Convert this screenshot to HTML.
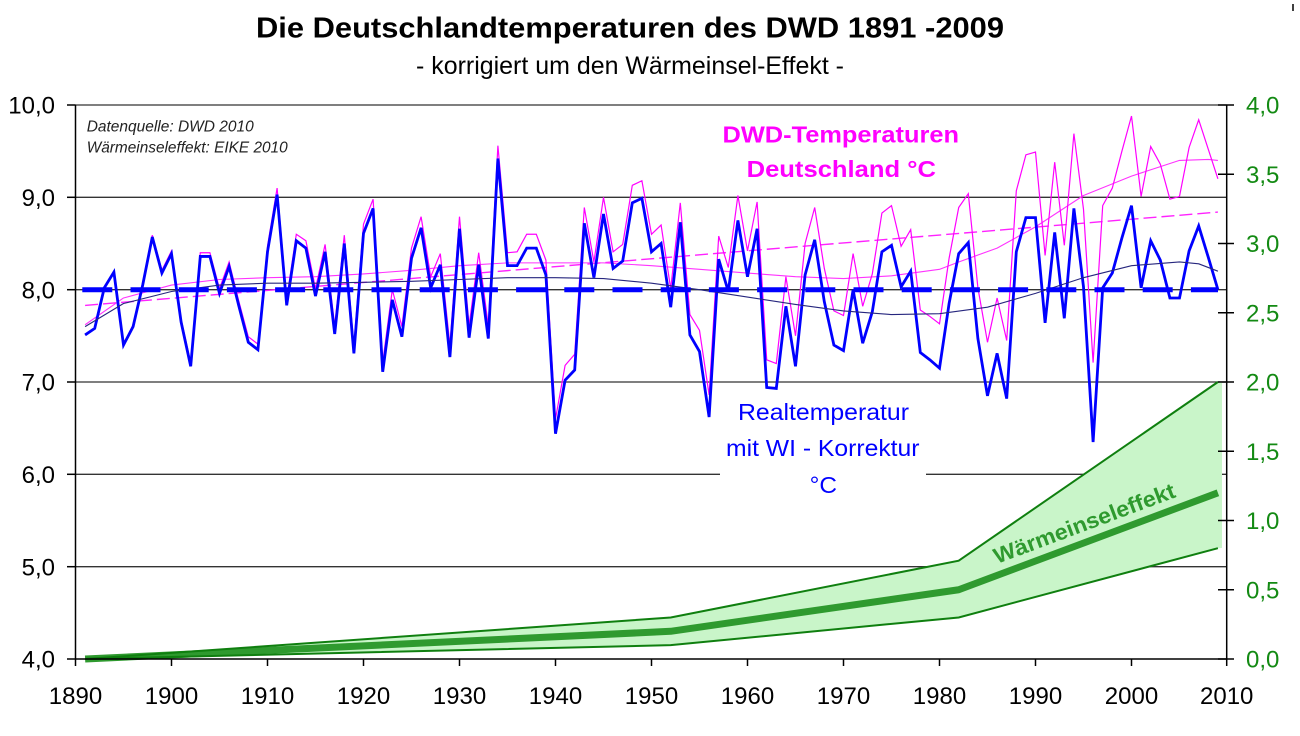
<!DOCTYPE html>
<html>
<head>
<meta charset="utf-8">
<style>
html,body{margin:0;padding:0;background:#fff;}
svg{display:block;}
text{font-family:"Liberation Sans",Arial,sans-serif;}
</style>
</head>
<body>
<svg width="1300" height="736" viewBox="0 0 1300 736" xmlns="http://www.w3.org/2000/svg">
<rect x="0" y="0" width="1300" height="736" fill="#fff"/>

<!-- Titles -->
<text x="256" y="37.3" font-size="29" font-weight="bold" fill="#000" textLength="748" lengthAdjust="spacingAndGlyphs">Die Deutschlandtemperaturen des DWD 1891 -2009</text>
<text x="416" y="74" font-size="25" fill="#000" textLength="428" lengthAdjust="spacingAndGlyphs">- korrigiert um den Wärmeinsel-Effekt -</text>
<line x1="1293" y1="4" x2="1293" y2="11" stroke="#000" stroke-width="1.5"/>

<!-- Gridlines -->
<g stroke="#333" stroke-width="1.3">
<line x1="75.5" y1="105" x2="1226.7" y2="105"/>
<line x1="75.5" y1="197.3" x2="1226.7" y2="197.3"/>
<line x1="75.5" y1="289.7" x2="1226.7" y2="289.7"/>
<line x1="75.5" y1="382" x2="1226.7" y2="382"/>
<line x1="75.5" y1="474.3" x2="1226.7" y2="474.3"/>
<line x1="75.5" y1="566.7" x2="1226.7" y2="566.7"/>
</g>

<!-- Green band (Wärmeinseleffekt) -->
<polygon points="85.1,659 670.7,617.5 958.7,560.7 1217.9,382 1222,382 1222,548 1217.9,548.2 958.7,617.45 670.7,645.15 85.1,659" fill="#c9f5c9"/>
<polyline points="85.1,659 670.7,631.3 958.7,589.75 1217.9,492.8" fill="none" stroke="#2f9a2f" stroke-width="7" stroke-linejoin="round"/>
<polyline points="85.1,659 670.7,617.5 958.7,560.7 1217.9,382" fill="none" stroke="#0f7f0f" stroke-width="2"/>
<polyline points="85.1,659 670.7,645.15 958.7,617.45 1217.9,548.2" fill="none" stroke="#0f7f0f" stroke-width="2"/>

<!-- Magenta trend dashed -->
<line x1="85.1" y1="305.4" x2="1217.9" y2="212.1" stroke="#ff22ff" stroke-width="1.4" stroke-dasharray="13 5"/>

<g transform="matrix(9.6 0 0 -92.33 75.5 1028.3)" fill="none">
<!-- Magenta smooth -->
<polyline vector-effect="non-scaling-stroke" stroke="#ff33ff" stroke-width="1.1" stroke-linejoin="round" points="1,7.62 5,7.91 10,8.05 15,8.11 20,8.13 25,8.14 30,8.17 35,8.21 40,8.26 45,8.29 50,8.29 55,8.29 60,8.26 65,8.22 70,8.18 75,8.14 80,8.12 85,8.15 90,8.22 92,8.30 96,8.45 100,8.68 105,9.02 110,9.23 115,9.40 118,9.41 119,9.40"/>
<!-- Magenta series -->
<polyline vector-effect="non-scaling-stroke" stroke="#ff00ff" stroke-width="1.2" points="1,7.51 2,7.58 3,8.03 4,8.20 5,7.41 6,7.62 7,8.07 8,8.59 9,8.21 10,8.42 11,7.68 12,7.21 13,8.40 14,8.40 15,8.01 16,8.30 17,7.88 18,7.49 19,7.41 20,8.47 21,9.10 22,7.90 23,8.60 24,8.53 25,8.01 26,8.49 27,7.61 28,8.59 29,7.40 30,8.71 31,8.98 32,7.21 33,8.00 34,7.60 35,8.45 36,8.79 37,8.14 38,8.39 39,7.40 40,8.79 41,7.61 42,8.40 43,7.61 44,9.56 45,8.40 46,8.41 47,8.60 48,8.60 49,8.32 50,6.60 51,7.18 52,7.30 53,8.89 54,8.30 55,9.00 56,8.41 57,8.49 58,9.13 59,9.18 60,8.60 61,8.70 62,8.01 63,8.94 64,7.73 65,7.56 66,6.86 67,8.58 68,8.24 69,9.02 70,8.42 71,8.95 72,7.24 73,7.20 74,8.14 75,7.50 76,8.50 77,8.89 78,8.23 79,7.77 80,7.72 81,8.39 82,7.82 83,8.17 84,8.83 85,8.91 86,8.47 87,8.65 88,7.78 89,7.71 90,7.63 91,8.34 92,8.89 93,9.04 94,8.02 95,7.43 96,7.91 97,7.45 98,9.07 99,9.46 100,9.49 101,8.37 102,9.38 103,8.48 104,9.69 105,8.87 106,7.21 107,8.91 108,9.10 109,9.50 110,9.88 111,9.01 112,9.55 113,9.36 114,8.98 115,9.01 116,9.54 117,9.84 118,9.52 119,9.20"/>
<!-- Blue series -->
<polyline vector-effect="non-scaling-stroke" stroke="#0000ff" stroke-width="2.8" points="1,7.51 2,7.58 3,8.02 4,8.19 5,7.40 6,7.60 7,8.05 8,8.57 9,8.18 10,8.39 11,7.65 12,7.17 13,8.36 14,8.36 15,7.96 16,8.25 17,7.83 18,7.43 19,7.35 20,8.41 21,9.03 22,7.83 23,8.53 24,8.45 25,7.93 26,8.41 27,7.52 28,8.50 29,7.31 30,8.61 31,8.88 32,7.11 33,7.89 34,7.49 35,8.34 36,8.67 37,8.02 38,8.27 39,7.27 40,8.66 41,7.48 42,8.27 43,7.47 44,9.42 45,8.26 46,8.26 47,8.45 48,8.45 49,8.16 50,6.44 51,7.02 52,7.13 53,8.72 54,8.13 55,8.82 56,8.23 57,8.31 58,8.94 59,8.99 60,8.41 61,8.50 62,7.81 63,8.73 64,7.51 65,7.33 66,6.62 67,8.33 68,7.98 69,8.75 70,8.14 71,8.66 72,6.94 73,6.93 74,7.82 75,7.17 76,8.16 77,8.54 78,7.87 79,7.40 80,7.34 81,8.00 82,7.42 83,7.76 84,8.41 85,8.48 86,8.03 87,8.20 88,7.32 89,7.24 90,7.15 91,7.85 92,8.39 93,8.51 94,7.47 95,6.85 96,7.31 97,6.82 98,8.41 99,8.78 100,8.78 101,7.64 102,8.62 103,7.69 104,8.88 105,8.03 106,6.35 107,8.02 108,8.18 109,8.56 110,8.91 111,8.02 112,8.53 113,8.32 114,7.91 115,7.91 116,8.42 117,8.69 118,8.35 119,8.00"/>
<!-- Navy smooth -->
<polyline vector-effect="non-scaling-stroke" stroke="#26267e" stroke-width="1.1" stroke-linejoin="round" points="1,7.60 5,7.85 10,7.98 15,8.05 20,8.07 25,8.07 30,8.08 35,8.09 40,8.11 45,8.13 50,8.13 55,8.12 60,8.07 65,8.00 70,7.92 75,7.84 80,7.77 85,7.73 90,7.74 95,7.81 100,7.96 105,8.13 110,8.26 115,8.30 117,8.28 119,8.20"/>
</g>

<!-- Blue trend dashed -->
<line x1="82.3" y1="289.7" x2="1218" y2="289.7" stroke="#0000ff" stroke-width="5" stroke-dasharray="30 18.2"/>

<!-- White box behind blue label -->
<rect x="720" y="390" width="206" height="110" fill="#fff"/>

<!-- Axes -->
<g stroke="#000" stroke-width="1.5">
<line x1="75.5" y1="105" x2="75.5" y2="666"/>
<line x1="75.5" y1="659" x2="1226.7" y2="659"/>
<line x1="1226.7" y1="105" x2="1226.7" y2="666"/>
<!-- left ticks -->
<line x1="67" y1="105" x2="75.5" y2="105"/>
<line x1="67" y1="197.3" x2="75.5" y2="197.3"/>
<line x1="67" y1="289.7" x2="75.5" y2="289.7"/>
<line x1="67" y1="382" x2="75.5" y2="382"/>
<line x1="67" y1="474.3" x2="75.5" y2="474.3"/>
<line x1="67" y1="566.7" x2="75.5" y2="566.7"/>
<line x1="67" y1="659" x2="75.5" y2="659"/>
<!-- bottom ticks -->
<line x1="171.5" y1="659" x2="171.5" y2="666"/>
<line x1="267.5" y1="659" x2="267.5" y2="666"/>
<line x1="363.5" y1="659" x2="363.5" y2="666"/>
<line x1="459.5" y1="659" x2="459.5" y2="666"/>
<line x1="555.5" y1="659" x2="555.5" y2="666"/>
<line x1="651.5" y1="659" x2="651.5" y2="666"/>
<line x1="747.5" y1="659" x2="747.5" y2="666"/>
<line x1="843.5" y1="659" x2="843.5" y2="666"/>
<line x1="939.5" y1="659" x2="939.5" y2="666"/>
<line x1="1035.5" y1="659" x2="1035.5" y2="666"/>
<line x1="1131.5" y1="659" x2="1131.5" y2="666"/>
<!-- right ticks -->
<line x1="1218" y1="105" x2="1234" y2="105"/>
<line x1="1218" y1="174.25" x2="1234" y2="174.25"/>
<line x1="1218" y1="243.5" x2="1234" y2="243.5"/>
<line x1="1218" y1="312.75" x2="1234" y2="312.75"/>
<line x1="1218" y1="382" x2="1234" y2="382"/>
<line x1="1218" y1="451.25" x2="1234" y2="451.25"/>
<line x1="1218" y1="520.5" x2="1234" y2="520.5"/>
<line x1="1218" y1="589.75" x2="1234" y2="589.75"/>
<line x1="1218" y1="659" x2="1234" y2="659"/>
</g>

<!-- Left labels -->
<g font-size="24" fill="#000" text-anchor="end">
<text x="55" y="113.6">10,0</text>
<text x="55" y="205.9">9,0</text>
<text x="55" y="298.3">8,0</text>
<text x="55" y="390.6">7,0</text>
<text x="55" y="482.9">6,0</text>
<text x="55" y="575.3">5,0</text>
<text x="55" y="667.6">4,0</text>
</g>

<!-- Right labels -->
<g font-size="24" fill="#138a13">
<text x="1246" y="113.6">4,0</text>
<text x="1246" y="182.9">3,5</text>
<text x="1246" y="252.1">3,0</text>
<text x="1246" y="321.4">2,5</text>
<text x="1246" y="390.6">2,0</text>
<text x="1246" y="459.9">1,5</text>
<text x="1246" y="529.1">1,0</text>
<text x="1246" y="598.4">0,5</text>
<text x="1246" y="667.6">0,0</text>
</g>

<!-- X labels -->
<g font-size="24" fill="#000" text-anchor="middle">
<text x="75.5" y="704">1890</text>
<text x="171.5" y="704">1900</text>
<text x="267.5" y="704">1910</text>
<text x="363.5" y="704">1920</text>
<text x="459.5" y="704">1930</text>
<text x="555.5" y="704">1940</text>
<text x="651.5" y="704">1950</text>
<text x="747.5" y="704">1960</text>
<text x="843.5" y="704">1970</text>
<text x="939.5" y="704">1980</text>
<text x="1035.5" y="704">1990</text>
<text x="1131.5" y="704">2000</text>
<text x="1226.7" y="704">2010</text>
</g>

<!-- Annotations -->
<text x="86.7" y="131.7" font-size="15.5" font-style="italic" fill="#222" textLength="167" lengthAdjust="spacingAndGlyphs">Datenquelle: DWD 2010</text>
<text x="86.7" y="152.7" font-size="15.5" font-style="italic" fill="#222" textLength="201" lengthAdjust="spacingAndGlyphs">Wärmeinseleffekt: EIKE 2010</text>

<text x="722.5" y="142.5" font-size="23" font-weight="bold" fill="#ff00ff" textLength="236.5" lengthAdjust="spacingAndGlyphs">DWD-Temperaturen</text>
<text x="746.6" y="177" font-size="23" font-weight="bold" fill="#ff00ff" textLength="189.4" lengthAdjust="spacingAndGlyphs">Deutschland °C</text>

<text x="738" y="420" font-size="23.5" fill="#0000ff" textLength="171" lengthAdjust="spacingAndGlyphs">Realtemperatur</text>
<text x="726" y="456" font-size="23.5" fill="#0000ff" textLength="193.5" lengthAdjust="spacingAndGlyphs">mit WI - Korrektur</text>
<text x="809.6" y="493" font-size="23.5" fill="#0000ff" textLength="27.4" lengthAdjust="spacingAndGlyphs">°C</text>

<text x="997" y="564" font-size="22" font-weight="bold" fill="#2f9a2f" transform="rotate(-20.5 997 564)" textLength="192" lengthAdjust="spacingAndGlyphs">Wärmeinseleffekt</text>
</svg>
</body>
</html>
